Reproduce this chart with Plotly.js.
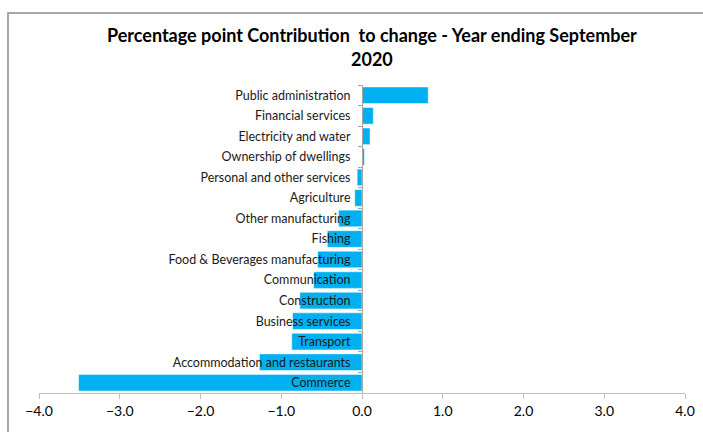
<!DOCTYPE html>
<html>
<head>
<meta charset="utf-8">
<script src="https://cdn.plot.ly/plotly-3.0.1.min.js"></script>
<style>html,body{margin:0;padding:0;background:#fff;}#chart{width:703px;height:432px;}</style>
</head>
<body>
<div id="chart"></div>
<script>
const categories = [
  "Public administration",
  "Financial services",
  "Electricity and water",
  "Ownership of dwellings",
  "Personal and other services",
  "Agriculture",
  "Other manufacturing",
  "Fishing",
  "Food & Beverages manufacturing",
  "Communication",
  "Construction",
  "Business services",
  "Transport",
  "Accommodation and restaurants",
  "Commerce"
];
const values = [0.82, 0.14, 0.10, 0.03, -0.06, -0.09, -0.29, -0.43, -0.55, -0.60, -0.77, -0.86, -0.87, -1.27, -3.51];
const xTicks = [-4, -3, -2, -1, 0, 1, 2, 3, 4];
const titleText = "Percentage point Contribution  to change - Year ending September<br>2020";

const font = "Lato, 'Open Sans', sans-serif";

const trace = {
  type: "bar",
  orientation: "h",
  y: categories,
  x: values,
  marker: {color: "#00B0F0", line: {color: "#ffffff", width: 0.5}},
  hoverinfo: "x+y"
};

const layout = {
  width: 703,
  height: 432,
  margin: {l: 39, r: 18, t: 85, b: 39},
  paper_bgcolor: "#ffffff",
  plot_bgcolor: "#ffffff",
  showlegend: false,
  bargap: 0.19,
  font: {family: font, color: "#000"},
  title: {
    text: titleText,
    font: {family: font, size: 18, color: "#000", weight: "bold"},
    xref: "container", x: 0.529, xanchor: "center",
    yref: "container", y: 0.902, yanchor: "middle"
  },
  xaxis: {
    range: [-4, 4],
    tickvals: xTicks,
    tickformat: ".1f",
    ticks: "outside",
    ticklen: 5,
    tickcolor: "#bfbfbf",
    showline: true,
    linecolor: "#bfbfbf",
    linewidth: 1,
    showgrid: false,
    zeroline: false,
    tickfont: {family: font, size: 14, color: "#000"},
    fixedrange: true
  },
  yaxis: {
    type: "category",
    categoryorder: "array",
    categoryarray: categories,
    autorange: "reversed",
    anchor: "free",
    position: 0.5,
    showline: true,
    linecolor: "#a6a6a6",
    linewidth: 1,
    ticks: "outside",
    tickson: "boundaries",
    ticklen: 4,
    tickcolor: "#a6a6a6",
    ticklabelstandoff: 9,
    showgrid: false,
    zeroline: false,
    tickfont: {family: font, size: 12.5, color: "#1a1a1a"},
    fixedrange: true
  },
  shapes: [
    {type: "rect", xref: "paper", yref: "paper",
     x0: -0.048, x1: 1.2, y0: -0.3, y1: 1.234,
     line: {color: "#8c8c8c", width: 1.5}, fillcolor: "rgba(0,0,0,0)", layer: "below"}
  ]
};

Plotly.newPlot("chart", [trace], layout, {displayModeBar: false, staticPlot: true});
</script>
</body>
</html>
